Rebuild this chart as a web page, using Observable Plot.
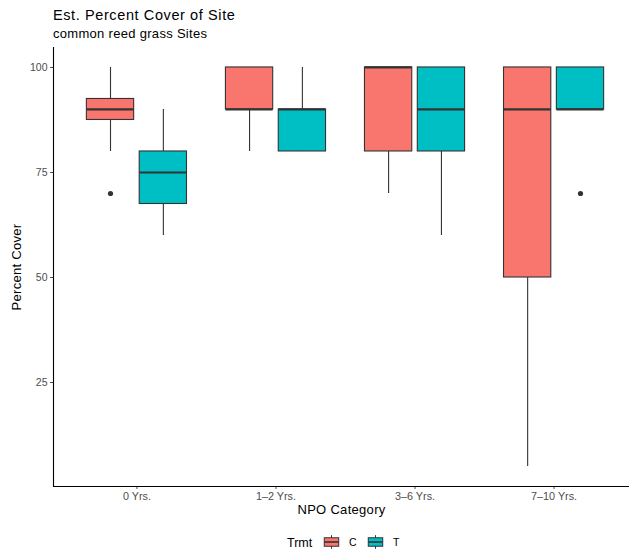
<!DOCTYPE html>
<html>
<head>
<meta charset="utf-8">
<script src="https://cdn.jsdelivr.net/npm/d3@7"></script>
<script src="https://cdn.jsdelivr.net/npm/@observablehq/plot@0.6"></script>
<style>
  html, body { margin: 0; padding: 0; background: #fff; overflow: hidden; }
  #wrap { position: relative; width: 629px; height: 552px; font-family: "Liberation Sans", Arial, sans-serif; }
  #title { position: absolute; left: 53px; top: 8.4px; font-size: 14.5px; letter-spacing: 0.6px; line-height: 1; color: #000; white-space: nowrap; }
  #subtitle { position: absolute; left: 53px; top: 27px; font-size: 13px; letter-spacing: 0.3px; line-height: 1; color: #000; white-space: nowrap; }
  #chart { position: absolute; left: 0; top: 0; }
  #legend { position: absolute; left: 0; top: 533px; width: 629px; height: 18px; }
</style>
</head>
<body>
<div id="wrap">
  <div id="chart"></div>
  <div id="title">Est. Percent Cover of Site</div>
  <div id="subtitle">common reed grass Sites</div>
  <div id="legend"></div>
</div>
<script>
// NPO categories along the x axis
const categories = ["0 Yrs.", "1–2 Yrs.", "3–6 Yrs.", "7–10 Yrs."];
const treatments = ["C", "T"];
const treatmentColors = ["#F8766D", "#00BFC4"];
const yTicks = [25, 50, 75, 100];

// Box-plot summaries for treatment C, one entry per category
const cLow = [80, 80, 70, 5];
const cQ1 = [87.5, 90, 80, 50];
const cMedian = [90, 90, 100, 90];
const cQ3 = [92.5, 100, 100, 100];
const cHigh = [100, 100, 100, 100];
const cOutliers = [[70], [], [], []];

// Box-plot summaries for treatment T, one entry per category
const tLow = [60, 80, 60, 90];
const tQ1 = [67.5, 80, 80, 90];
const tMedian = [75, 90, 90, 90];
const tQ3 = [80, 90, 100, 100];
const tHigh = [90, 100, 100, 100];
const tOutliers = [[], [], [], [70]];

// dodge offset and half box width, in category units
const dodge = {C: -0.19, T: 0.19};
const half = 0.17;

const series = {
  C: {low: cLow, q1: cQ1, med: cMedian, q3: cQ3, high: cHigh, out: cOutliers},
  T: {low: tLow, q1: tQ1, med: tMedian, q3: tQ3, high: tHigh, out: tOutliers}
};

const boxes = [];
const outliers = [];
for (const trmt of treatments) {
  const s = series[trmt];
  categories.forEach((cat, i) => {
    boxes.push({i, trmt, low: s.low[i], q1: s.q1[i], med: s.med[i], q3: s.q3[i], high: s.high[i]});
    for (const v of s.out[i]) outliers.push({i, trmt, value: v});
  });
}
const pos = d => d.i + dodge[d.trmt];

const xDomain = [-0.6, 3.6];
const yDomain = [0.25, 104.75];
const ink = "#333333";

const plot = Plot.plot({
  width: 629,
  height: 521,
  marginTop: 47,
  marginLeft: 53,
  marginRight: -8,
  marginBottom: 35,
  style: {fontFamily: "Liberation Sans, Arial, sans-serif", background: "transparent"},
  x: {type: "linear", domain: xDomain, axis: null},
  y: {domain: yDomain, axis: null},
  color: {domain: treatments, range: treatmentColors},
  marks: [
    // whiskers
    Plot.ruleX(boxes, {x: pos, y1: "low", y2: "high", stroke: ink, strokeWidth: 1.1}),
    // boxes
    Plot.rect(boxes, {x1: d => pos(d) - half, x2: d => pos(d) + half, y1: "q1", y2: "q3", fill: "trmt", stroke: ink, strokeWidth: 1.1}),
    // medians
    Plot.ruleY(boxes, {y: "med", x1: d => pos(d) - half, x2: d => pos(d) + half, stroke: ink, strokeWidth: 2.2}),
    // outliers
    Plot.dot(outliers, {x: pos, y: "value", r: 2.6, fill: ink, stroke: null}),
    // axes
    Plot.axisY({ticks: yTicks, tickSize: 3, tickPadding: 3, fontSize: 10.5, color: "#4d4d4d", label: null}),
    Plot.axisX({ticks: [0, 1, 2, 3], tickFormat: i => categories[i], tickSize: 3, tickPadding: 3, fontSize: 10.8, color: "#4d4d4d", label: null}),
    Plot.ruleX([xDomain[0]], {stroke: "#000", strokeWidth: 1.1}),
    Plot.ruleY([yDomain[0]], {stroke: "#000", strokeWidth: 1.1}),
    // axis titles
    Plot.text(["NPO Category"], {frameAnchor: "bottom", textAnchor: "middle", lineAnchor: "bottom", dy: 27, dx: -4, fontSize: 13, letterSpacing: "0.3px", fill: "#000"}),
    Plot.text(["Percent Cover"], {frameAnchor: "left", textAnchor: "middle", lineAnchor: "middle", dx: -37, rotate: -90, fontSize: 13, letterSpacing: "0.3px", fill: "#000"})
  ]
});
document.getElementById("chart").appendChild(plot);
plot.querySelectorAll("text").forEach(t => {
  if (t.textContent === "NPO Category" || t.textContent === "Percent Cover") t.setAttribute("letter-spacing", "0.3");
});

// legend: title plus a box-plot glyph key per treatment
const legend = d3.select("#legend").append("svg")
  .attr("width", 629).attr("height", 18)
  .style("font-family", "Liberation Sans, Arial, sans-serif");
legend.append("text").attr("x", 287).attr("y", 13.5).attr("font-size", 12.5).text("Trmt");
const keyX = [323, 367];
treatments.forEach((t, k) => {
  const g = legend.append("g").attr("transform", `translate(${keyX[k]},0.5)`);
  const w = 17, h = 17;
  g.append("line").attr("x1", w / 2).attr("x2", w / 2).attr("y1", h * 0.1).attr("y2", h * 0.9).attr("stroke", ink).attr("stroke-width", 1);
  g.append("rect").attr("x", w * 0.075).attr("y", h * 0.25).attr("width", w * 0.85).attr("height", h * 0.5)
    .attr("fill", treatmentColors[k]).attr("stroke", ink).attr("stroke-width", 1);
  g.append("line").attr("x1", w * 0.075).attr("x2", w * 0.925).attr("y1", h / 2).attr("y2", h / 2).attr("stroke", ink).attr("stroke-width", 1.6);
  legend.append("text").attr("x", keyX[k] + 26).attr("y", 13).attr("font-size", 10.5).text(t);
});
</script>
</body>
</html>
